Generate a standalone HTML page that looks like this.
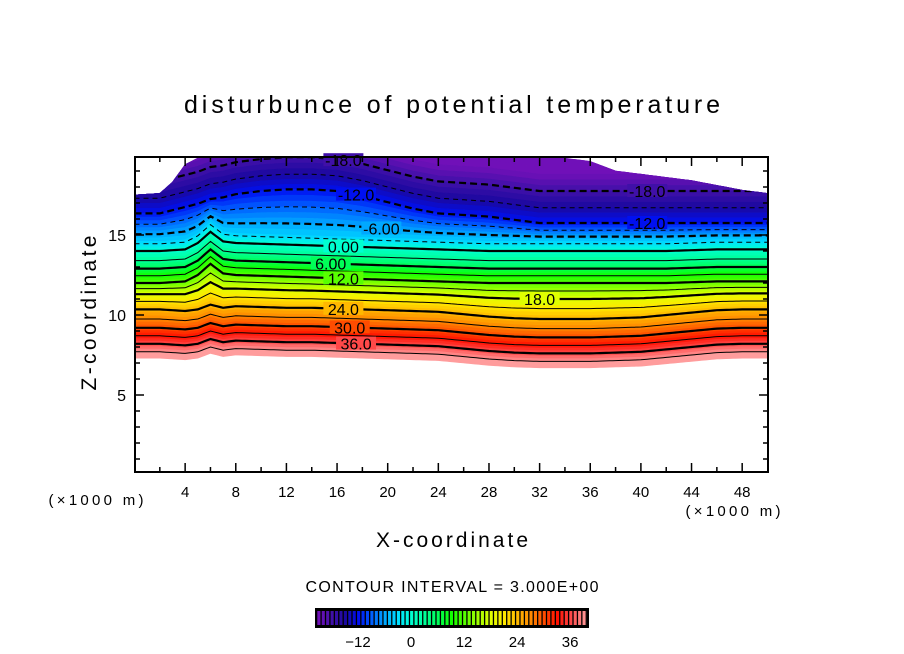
<!DOCTYPE html>
<html><head><meta charset="utf-8"><style>
body{margin:0;background:#fff;}
svg{display:block;font-family:"Liberation Sans",sans-serif;}
</style></head><body>
<svg id="chart" width="904" height="654" viewBox="0 0 904 654" xmlns="http://www.w3.org/2000/svg">
<rect width="904" height="654" fill="#fff"/>
<text x="452" y="113" text-anchor="middle" font-size="25" textLength="536" lengthAdjust="spacing">disturbunce of potential temperature</text>
<g id="field"></g>
<g id="lines"></g>
<g id="labels"></g>
<g id="axes"></g>
<text transform="translate(96,313) rotate(-90)" text-anchor="middle" font-size="21" textLength="155" lengthAdjust="spacing">Z-coordinate</text>
<text x="452" y="547" text-anchor="middle" font-size="21" textLength="152" lengthAdjust="spacing">X-coordinate</text>
<text x="96" y="505" text-anchor="middle" font-size="15" textLength="95" lengthAdjust="spacing">(×1000 m)</text>
<text x="733" y="516" text-anchor="middle" font-size="15" textLength="95" lengthAdjust="spacing">(×1000 m)</text>
<text x="452" y="592" text-anchor="middle" font-size="16" textLength="293" lengthAdjust="spacing">CONTOUR INTERVAL = 3.000E+00</text>
<g id="cbar"></g>
</svg>
<script>
// ---- data ----
const xs = [0,2,3,4,5,6,7,8,10,12,14,16,18,20,22,24,26,28,30,32,34,36,38,40,42,44,46,48,50];
const lowShift = [0.6,0.6,0.55,0.5,0.6,0.9,0.7,0.8,0.75,0.7,0.7,0.65,0.6,0.55,0.5,0.45,0.3,0.15,0.05,0,0,0,0.05,0.1,0.25,0.4,0.55,0.6,0.6];
const midShift = [0,0,0.05,0.1,0.5,1.2,0.6,0.5,0.45,0.4,0.35,0.3,0.25,0.2,0.15,0.1,0.05,0,0,0,0,0,0,0,0,0.05,0.1,0.1,0.1];
const highShift = [0.6,0.6,0.8,1.0,1.2,1.5,1.6,1.8,2.0,2.1,2.1,2.0,1.7,1.3,0.9,0.6,0.5,0.4,0.2,0,0,0,0,0,0,0,0,0,0];
const topZ = [17.5,17.6,18.3,19.4,19.8,19.8,19.8,19.8,19.8,19.8,19.8,19.8,19.8,19.8,19.8,19.8,19.8,19.8,19.8,19.8,19.8,19.6,19.0,18.8,18.6,18.4,18.1,17.8,17.6];
const refVals = [-24,-21,-18,-15,-12,-9,-6,-3,0,3,6,9,12,15,18,21,24,27,30,33,36,39,40];
const refZ = [20.2,18.8,17.75,16.7,15.75,15.3,14.9,14.45,14.0,13.4,12.9,12.45,12.0,11.5,11.0,10.4,9.75,9.15,8.6,8.1,7.6,7.1,6.7];
const contourLevels = [-18,-15,-12,-9,-6,-3,0,3,6,9,12,15,18,21,24,27,30,33,36,39];
const labelTexts = ["-18.0","-12.0","-6.00","0.00","6.00","12.0","18.0","24.0","30.0","36.0","-18.0","-12.0"];
const labelLevels = [-18,-12,-6,0,6,12,18,24,30,36,-18,-12];
const labelX = [16.5,17.5,19.5,16.5,15.5,16.5,32,16.5,17,17.5,40.5,40.5];
const xTicks = [4,8,12,16,20,24,28,32,36,40,44,48];
const yTicks = [5,10,15];
const cbarTicks = [-12,0,12,24,36];
const colorVals = [-21,-18,-15,-12,-9,-6,-3,0,3,6,9,12,15,18,21,24,27,30,33,36,39,40];
const colorHex = ["#7010b8","#4010a8","#1a08a0","#0010f0","#0060ff","#00a8ff","#00e0ff","#00ffd0","#00ff98","#00ff58","#10ff00","#58ff00","#a0ff00","#e0ff00","#ffe800","#ffb800","#ff8800","#ff4c00","#ff1000","#ff4848","#ff9090","#ffa8a8"];

// ---- axes ----
const PX0=135, PX1=768, PY0=157, PY1=472;
const sx = x => 134.5 + x*12.66;
const sy = z => 475 - z*16;
const NS='http://www.w3.org/2000/svg';
function mk(tag, attrs, parent){const e=document.createElementNS(NS,tag);for(const k in attrs)e.setAttribute(k,attrs[k]);parent.appendChild(e);return e;}
function interp(arrX, arrY, x){
  if(x<=arrX[0])return arrY[0];
  for(let i=1;i<arrX.length;i++){if(x<=arrX[i]){const t=(x-arrX[i-1])/(arrX[i]-arrX[i-1]);return arrY[i-1]+t*(arrY[i]-arrY[i-1]);}}
  return arrY[arrY.length-1];
}
function shiftAt(v,x){
  const lo=interp(xs,lowShift,x), mi=interp(xs,midShift,x), hi=interp(xs,highShift,x);
  if(v>=24)return lo;
  if(v>=12)return mi+(lo-mi)*(v-12)/12;
  if(v>=-4)return mi;
  if(v>-12)return mi+(hi-mi)*(-4-v)/8;
  return hi;
}
function zOf(v,x){return interp(refVals,refZ,v)+shiftAt(v,x);}
function hex2rgb(h){return [1,3,5].map(i=>parseInt(h.substr(i,2),16));}
function colorOf(v){
  let i=1;while(i<colorVals.length-1&&v>colorVals[i])i++;
  const t=Math.max(0,Math.min(1,(v-colorVals[i-1])/(colorVals[i]-colorVals[i-1])));
  const a=hex2rgb(colorHex[i-1]),b=hex2rgb(colorHex[i]);
  return 'rgb('+a.map((c,k)=>Math.round(c+(b[k]-c)*t)).join(',')+')';
}
const samples=[];for(let x=0;x<=50.001;x+=0.25)samples.push(x);

// ---- field ----
const field=document.getElementById('field');
for(let v=-24; v<40; v++){
  const up=samples.map(x=>[sx(x),sy(Math.min(zOf(v,x),interp(xs,topZ,x)))]);
  const dn=samples.map(x=>[sx(x),sy(Math.min(zOf(v+1,x),interp(xs,topZ,x)))]).reverse();
  const pts=up.concat(dn).map(p=>p[0].toFixed(1)+','+p[1].toFixed(1)).join(' ');
  const p=mk('polygon',{points:pts,fill:colorOf(Math.max(-21,v+0.5)),stroke:colorOf(Math.max(-21,v+0.5)),'stroke-width':0.6},field);
  
  
}
// clip for lines
const defs=mk('defs',{},document.getElementById('chart'));
const cp=mk('clipPath',{id:'topclip'},defs);
const clipPts=samples.map(x=>sx(x).toFixed(1)+','+sy(interp(xs,topZ,x)).toFixed(1));
clipPts.push(sx(50)+','+PY1, sx(0)+','+PY1);
mk('polygon',{points:clipPts.join(' ')},cp);
const lines=document.getElementById('lines');
lines.setAttribute('clip-path','url(#topclip)');
contourLevels.forEach(v=>{
  const pts=samples.map(x=>sx(x).toFixed(1)+','+sy(zOf(v,x)).toFixed(1)).join(' ');
  const attrs={points:pts,fill:'none',stroke:'#000','stroke-width':(v%6===0)?2.2:1};
  if(v<0){attrs['stroke-dasharray']=(v%6===0)?'7,4':'5,4';}
  const l=mk('polyline',attrs,lines);
  
  
});
const labels=document.getElementById('labels');
labelTexts.forEach((t,i)=>{
  const x=labelX[i], v=labelLevels[i];
  const px=sx(x), py=sy(zOf(v,x));
  const r=mk('rect',{x:px-20,y:py-7,width:40,height:13,fill:colorOf(v)},labels);
  
  
  const tx=mk('text',{x:px,y:py+6,'text-anchor':'middle','font-size':16},labels);
  tx.textContent=t;
  
  
});

// ---- axes draw ----
const axes=document.getElementById('axes');
const frame=mk('rect',{x:PX0,y:PY0,width:PX1-PX0,height:PY1-PY0,fill:'none',stroke:'#000','stroke-width':2},axes);


for(let x=2;x<50;x+=2){
  const major=x%4===0, L=major?9:5;
  mk('line',{x1:sx(x),x2:sx(x),y1:PY1,y2:PY1-L,stroke:'#000','stroke-width':1.5},axes);
  mk('line',{x1:sx(x),x2:sx(x),y1:PY0,y2:PY0+L,stroke:'#000','stroke-width':1.5},axes);
}
xTicks.forEach(x=>{
  const t=mk('text',{x:sx(x),y:497,'text-anchor':'middle','font-size':15},axes);
  t.textContent=x;
  
  
});
for(let z=1;z<20;z++){
  const L=z%5===0?9:5;
  mk('line',{x1:PX0,x2:PX0+L,y1:sy(z),y2:sy(z),stroke:'#000','stroke-width':1.5},axes);
  mk('line',{x1:PX1,x2:PX1-L,y1:sy(z),y2:sy(z),stroke:'#000','stroke-width':1.5},axes);
}
yTicks.forEach(z=>{
  const t=mk('text',{x:126,y:sy(z)+6,'text-anchor':'end','font-size':16},axes);
  t.textContent=z;
  
  
});

// ---- colorbar ----
const cbar=document.getElementById('cbar');
const CB0=316, CB1=588, CBY=609, CBH=18, cv0=-21.5, cpu=4.42;
const cbx=v=>CB0+(v-cv0)*cpu;
mk('rect',{x:CB0,y:CBY,width:CB1-CB0,height:CBH,fill:'#000'},cbar);
for(let v=-21;v<=40;v++){
  const x0=cbx(v-0.5)+1.3, x1=Math.min(cbx(v+0.5),CB1-1);
  if(x1<=x0)continue;
  const s=mk('rect',{x:x0,y:CBY+2,width:x1-x0,height:CBH-4,fill:colorOf(v)},cbar);
  
  
}
mk('rect',{x:CB0,y:CBY,width:CB1-CB0,height:CBH,fill:'none',stroke:'#000','stroke-width':2},cbar);
cbarTicks.forEach(v=>{
  const t=mk('text',{x:cbx(v),y:647,'text-anchor':'middle','font-size':15},cbar);
  t.textContent=v<0?'\u2212'+(-v):v;
  
  
});
</script>
</body></html>
